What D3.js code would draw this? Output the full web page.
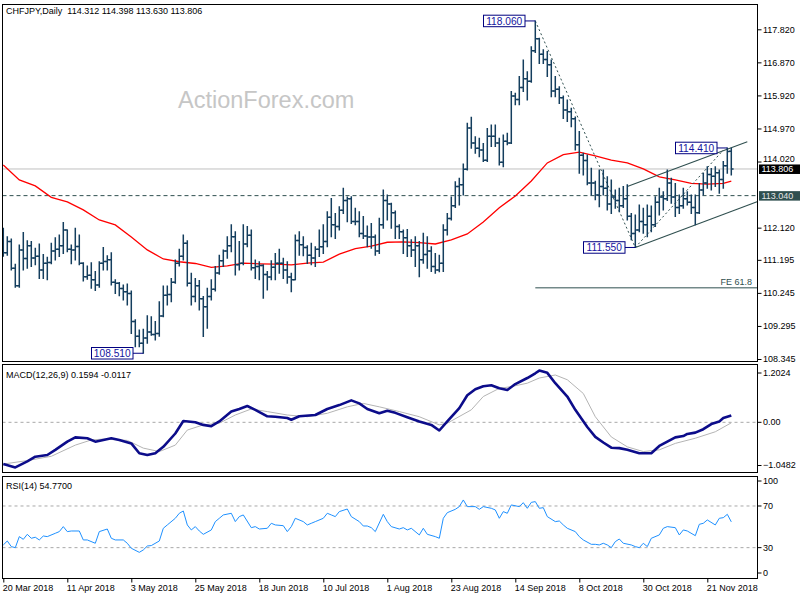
<!DOCTYPE html>
<html><head><meta charset="utf-8">
<script src="https://cdn.jsdelivr.net/npm/d3@7/dist/d3.min.js"></script>
<style>body{margin:0;background:#fff;}svg{display:block;}</style>
</head><body>
<svg id="chart" width="800" height="600"></svg>
<script>
// ---------------- DATA ----------------
const symbol = "CHFJPY,Daily";
const lastOHLC = ["114.312","114.398","113.630","113.806"];
const tickLabels = ["20 Mar 2018","11 Apr 2018","3 May 2018","25 May 2018","18 Jun 2018","10 Jul 2018","1 Aug 2018","23 Aug 2018","14 Sep 2018","8 Oct 2018","30 Oct 2018","21 Nov 2018"];
const tickIdx = [0,16,32,48,64,80,96,112,128,144,160,176];
const priceTicks = [117.820,116.870,115.920,114.970,114.020,112.120,111.195,110.245,109.295,108.345];
const macdTicks = [1.2024,0,-1.0482];
const rsiTicks = [100,70,30,0];

const opens = [111.45,111.40,111.72,110.95,110.45,111.48,111.23,111.60,111.25,111.30,
110.90,111.10,111.12,111.45,111.50,111.60,112.05,111.50,111.48,111.58,
111.10,110.71,110.75,110.62,110.47,111.10,111.15,111.20,110.55,110.52,
110.37,110.28,110.23,109.42,109.00,108.80,108.95,109.12,109.05,109.08,
109.58,110.18,110.20,110.55,111.10,111.30,111.67,110.52,110.14,110.45,
110.08,109.85,110.14,110.35,110.82,111.17,111.45,111.60,111.86,111.05,
111.10,111.65,111.90,110.97,111.00,111.03,110.77,110.70,110.98,111.10,
111.10,110.90,110.70,110.62,111.75,111.63,111.55,111.33,111.25,111.50,
111.57,111.72,112.42,112.20,112.15,112.62,112.90,112.95,112.30,112.30,
111.95,111.88,111.85,111.85,111.45,112.20,112.90,112.80,112.55,112.15,
112.00,111.83,111.60,111.48,111.60,111.20,111.35,111.45,111.00,110.90,
111.10,112.05,112.38,112.75,113.30,113.35,113.80,114.98,114.55,114.40,
114.35,114.06,114.75,114.75,114.55,114.00,114.60,114.55,115.90,115.80,
116.15,116.40,116.33,117.20,117.55,117.10,116.95,116.80,116.05,116.10,
115.85,115.50,115.45,115.25,114.50,114.20,114.05,113.40,113.40,113.06,
113.30,113.25,112.80,113.00,112.90,112.75,112.95,112.45,111.95,112.05,
112.30,112.20,112.45,112.20,112.85,113.00,112.95,113.40,113.00,112.70,
112.75,112.95,112.85,112.70,112.55,113.20,113.40,113.65,113.60,113.70,
113.50,113.90,114.312];
const highs = [112.10,111.86,111.79,111.07,111.62,111.98,111.74,111.72,111.53,111.65,
111.35,111.27,111.67,111.83,111.91,112.27,112.05,111.62,112.10,111.91,
111.11,111.02,111.11,110.86,111.14,111.55,111.31,111.40,110.62,110.54,
110.47,110.50,110.30,109.47,109.18,109.20,109.59,109.56,109.42,109.99,
110.44,110.44,110.66,111.19,111.50,111.91,111.74,110.81,110.66,110.60,
110.14,110.38,110.62,111.00,111.33,111.48,111.86,112.20,112.00,111.72,
112.20,112.15,112.05,111.19,111.14,111.05,110.86,111.17,111.38,111.50,
111.24,111.14,110.81,111.91,112.00,111.86,111.60,111.67,111.57,112.05,
112.20,112.58,112.96,112.53,112.72,113.25,113.00,113.01,112.68,112.58,
112.44,112.17,112.24,111.91,112.39,113.20,113.06,112.82,112.60,112.20,
112.05,112.07,111.77,111.86,111.72,111.96,111.86,111.57,111.38,111.33,
112.20,112.53,113.00,113.44,113.54,113.95,115.12,115.29,114.73,114.69,
114.54,114.97,115.07,115.07,114.69,114.78,114.83,116.03,115.98,116.46,
116.94,116.60,117.32,118.06,117.56,117.23,117.18,116.94,116.46,116.17,
115.90,115.79,115.55,115.30,114.88,114.26,114.21,113.83,113.45,113.78,
113.78,113.58,113.49,113.20,113.25,113.30,113.35,112.53,112.48,112.77,
112.68,112.77,112.74,113.01,113.25,113.15,113.78,113.54,113.39,113.06,
113.25,113.15,113.06,113.06,113.39,113.68,113.87,113.82,113.87,113.78,
114.02,114.41,114.398];
const lows = [111.30,111.33,110.90,110.41,110.41,110.90,110.95,111.00,111.05,110.66,
110.66,110.62,111.08,111.19,111.29,111.38,111.43,111.08,111.19,111.05,
110.59,110.64,110.38,110.31,110.41,110.90,110.90,110.47,110.23,110.16,
110.04,109.90,109.08,108.70,108.70,108.51,108.80,109.03,108.89,109.00,
109.56,109.90,109.99,110.52,111.02,111.19,110.44,109.90,109.99,109.75,
108.99,109.23,110.04,110.30,110.78,111.00,111.24,111.43,110.76,110.90,
111.05,111.57,110.90,110.66,110.62,110.09,110.33,110.62,110.62,110.81,
110.66,110.52,110.28,110.62,111.33,111.31,111.09,111.05,111.00,111.29,
111.38,111.57,111.86,111.81,112.05,112.53,112.29,112.24,112.20,111.86,
111.81,111.57,111.53,111.33,111.38,112.10,112.34,112.10,111.81,111.81,
111.38,111.29,111.29,111.00,110.71,111.10,110.95,110.86,110.81,110.85,
110.86,111.91,112.34,112.70,112.77,113.06,113.78,114.40,114.26,114.16,
114.02,114.02,114.45,114.45,113.92,113.87,114.50,114.54,115.65,115.65,
116.03,115.79,116.30,117.15,116.84,116.84,116.46,115.88,115.88,115.69,
115.26,115.17,115.02,114.35,113.68,113.63,113.35,113.06,112.92,112.72,
113.06,112.63,112.53,112.68,112.58,112.70,112.34,111.77,111.55,112.00,
111.96,111.86,112.00,112.15,112.48,112.63,112.90,112.82,112.44,112.53,
112.68,112.77,112.53,112.20,112.53,113.06,113.25,113.20,113.30,113.11,
113.25,113.68,113.630];
const closes = [111.40,111.72,110.95,110.45,111.48,111.23,111.60,111.25,111.30,110.90,
111.10,111.12,111.45,111.50,111.60,112.05,111.50,111.48,111.58,111.10,
110.71,110.75,110.62,110.47,111.10,111.15,111.20,110.55,110.52,110.37,
110.28,110.23,109.42,109.00,108.80,108.95,109.12,109.05,109.08,109.58,
110.18,110.20,110.55,111.10,111.30,111.67,110.52,110.14,110.45,110.08,
109.85,110.14,110.35,110.82,111.17,111.45,111.60,111.86,111.05,111.10,
111.65,111.90,110.97,111.00,111.03,110.77,110.70,110.98,111.10,111.10,
110.90,110.70,110.62,111.75,111.63,111.55,111.33,111.25,111.50,111.57,
111.72,112.42,112.20,112.15,112.62,112.90,112.95,112.30,112.30,111.95,
111.88,111.85,111.85,111.45,112.20,112.90,112.80,112.55,112.15,112.00,
111.83,111.60,111.48,111.60,111.20,111.35,111.45,111.00,110.90,111.10,
112.05,112.38,112.75,113.30,113.35,113.80,114.98,114.55,114.40,114.35,
114.06,114.75,114.75,114.55,114.00,114.60,114.55,115.90,115.80,116.15,
116.40,116.33,117.20,117.55,117.10,116.95,116.80,116.05,116.10,115.85,
115.50,115.45,115.25,114.50,114.20,114.05,113.40,113.40,113.06,113.30,
113.25,112.80,113.00,112.90,112.75,112.95,112.45,111.95,112.05,112.30,
112.20,112.45,112.20,112.85,113.00,112.95,113.40,113.00,112.70,112.75,
112.95,112.85,112.70,112.55,113.20,113.40,113.65,113.60,113.70,113.50,
113.90,114.31,113.806];

const maIdx = [0,4,8,12,16,20,24,28,32,36,40,44,48,52,56,60,64,68,72,76,80,84,88,92,96,100,104,108,112,116,120,124,128,132,136,140,144,148,152,156,160,164,168,172,176,180,182];
const maVals = [113.92,113.49,113.32,112.99,112.86,112.63,112.34,112.20,111.85,111.48,111.22,111.14,111.09,110.98,111.02,111.10,111.08,111.07,111.05,111.10,111.13,111.36,111.52,111.59,111.70,111.71,111.69,111.65,111.77,111.94,112.28,112.69,113.03,113.46,113.98,114.22,114.29,114.18,114.06,113.98,113.81,113.58,113.49,113.39,113.37,113.39,113.46];

const macdIdx = [0,3,6,8,11,13,16,18,21,23,25,27,29,32,34,36,38,40,43,45,48,50,52,54,57,59,61,63,66,68,71,72,74,78,81,84,87,89,91,94,96,98,101,104,107,109,111,114,116,118,120,122,124,126,128,131,133,134,136,138,141,143,146,148,150,152,154,156,159,162,164,168,170,171,173,175,177,179,180,182];
const macdVals = [-0.97,-1.048,-0.91,-0.80,-0.76,-0.64,-0.45,-0.35,-0.37,-0.45,-0.41,-0.37,-0.41,-0.49,-0.72,-0.76,-0.72,-0.57,-0.26,0.03,0.00,-0.06,-0.09,0.02,0.25,0.31,0.38,0.29,0.14,0.13,0.10,0.06,0.14,0.17,0.31,0.40,0.51,0.44,0.31,0.21,0.27,0.22,0.12,0.02,-0.06,-0.19,0.02,0.33,0.63,0.77,0.84,0.86,0.79,0.75,0.89,1.03,1.14,1.2024,1.15,0.91,0.60,0.29,-0.11,-0.34,-0.47,-0.59,-0.60,-0.64,-0.72,-0.72,-0.55,-0.35,-0.32,-0.27,-0.24,-0.16,-0.04,0.02,0.10,0.1594];
const sigIdx = [0,6,12,18,22,25,31,35,39,43,46,50,54,58,62,66,71,76,81,86,90,94,99,104,109,111,117,120,124,127,131,134,138,141,145,148,152,156,160,164,168,173,178,182];
const sigVals = [-0.97,-0.89,-0.79,-0.53,-0.41,-0.39,-0.42,-0.60,-0.68,-0.53,-0.18,-0.06,-0.02,0.17,0.31,0.25,0.17,0.13,0.21,0.36,0.44,0.36,0.25,0.13,-0.06,-0.02,0.29,0.60,0.79,0.83,0.91,1.03,1.10,0.99,0.67,0.13,-0.34,-0.57,-0.68,-0.64,-0.49,-0.37,-0.22,-0.0117];

const rsiIdx = [0,1,2,3,4,5,6,7,8,9,10,11,13,14,15,16,17,19,20,21,23,24,26,27,28,30,31,32,34,35,36,37,39,40,41,43,44,45,46,47,48,49,50,52,53,54,55,57,58,59,60,62,63,64,66,67,68,70,71,72,73,75,76,77,78,80,81,82,83,84,86,87,89,90,91,92,93,95,96,97,99,100,101,102,104,105,106,108,109,110,111,113,114,115,116,118,119,120,122,123,124,125,126,127,129,130,131,132,133,134,135,136,138,139,140,141,143,144,145,147,148,149,150,151,152,153,154,155,157,158,159,160,161,162,164,165,166,168,169,170,171,173,174,175,176,178,179,180,181,182];
const rsiVals = [32.6,36.4,31.0,30.0,40.6,38.0,42.8,39.0,40.0,37.4,41.2,40.6,43.8,45.4,50.2,45.4,46.0,46.0,37.4,37.4,34.2,45.4,47.9,39.0,37.4,37.4,34.2,29.4,25.5,27.8,31.6,32.0,36.4,48.6,51.8,58.2,63.0,65.2,51.8,47.0,50.2,46.0,42.8,47.0,55.0,58.2,61.4,63.0,55.0,59.8,61.4,49.2,50.2,47.9,48.6,53.4,51.8,51.1,45.4,50.2,58.2,55.0,51.8,53.4,55.0,58.2,63.0,61.4,59.8,64.6,67.1,59.8,55.0,50.8,50.8,49.2,45.4,62.0,55.0,50.2,47.9,49.2,47.0,48.6,42.2,48.6,42.8,40.6,39.0,58.2,63.6,66.8,69.4,75.8,69.4,69.4,66.8,69.4,67.8,66.2,58.2,64.6,63.0,71.0,69.4,73.2,67.8,73.5,74.2,67.8,68.4,59.8,55.0,55.6,51.8,48.6,45.4,40.6,37.4,33.2,33.2,32.6,34.2,32.6,30.0,35.8,38.3,34.2,32.6,31.0,30.0,34.2,31.0,39.0,42.2,48.6,50.2,49.2,42.2,47.0,46.0,41.5,52.4,53.4,56.6,51.8,58.2,58.8,62.0,54.77];

// annotations (bar index, price)
const lastPrice = 113.806;
const supportLevel = 113.04;
const feLevel = 110.39;
const feLabel = "FE 61.8";
const feStart = 133;
const trendDown = [[133,118.06],[158,111.55]];
const trendUp = [[158,111.55],[180,114.35]];
const chanUpper = [[156,113.30],[186,114.59]];
const chanLower = [[158,111.55],[188.6,112.87]];
const pivotLabels = [["118.060",133,118.06],["108.510",35,108.51],["111.550",158,111.55],["114.410",181,114.41]];

// ---------------- DRAW ----------------
const FONT = '"Liberation Sans", Arial, sans-serif';
const BAR = "#143e5e", SLATE = "#2f4f4f", NAVY = "#000080";
const svg = d3.select('#chart');
svg.append('rect').attr('width',800).attr('height',600).attr('fill','#fff');
const L = 2.5, R = 757.5;
const P = {main:{t:4.5,b:361.5}, macd:{t:364.5,b:472.5}, rsi:{t:476.5,b:578.5}};

const x = d3.scaleLinear().domain([0,188.6]).range([3.3,757.7]);
const y = d3.scaleLinear().domain([108.345,117.82]).range([359,29.3]);
const ym = d3.scaleLinear().domain([-1.0482,1.2024]).range([467.4,370.6]);
const yr = d3.scaleLinear().domain([0,100]).range([578.9,474.75]);

const defs = svg.append('defs');
Object.entries(P).forEach(([k,p])=>{
  defs.append('clipPath').attr('id','clip-'+k).append('rect')
    .attr('x',L).attr('y',p.t).attr('width',R-L).attr('height',p.b-p.t);
});

// watermark
svg.append('text').attr('x',178).attr('y',108).attr('font-family',FONT)
  .attr('font-size',23.5).attr('fill','#c6c6c6').text('ActionForex.com');

const gm = svg.append('g').attr('clip-path','url(#clip-main)');
gm.append('line').attr('x1',L).attr('x2',R).attr('y1',y(lastPrice)).attr('y2',y(lastPrice))
  .attr('stroke','#c0c0c0').attr('stroke-width',1);
gm.append('line').attr('x1',L).attr('x2',R).attr('y1',y(supportLevel)).attr('y2',y(supportLevel))
  .attr('stroke',SLATE).attr('stroke-width',1).attr('stroke-dasharray','4,3');
gm.append('line').attr('x1',x(feStart)).attr('x2',R).attr('y1',y(feLevel)).attr('y2',y(feLevel))
  .attr('stroke',SLATE).attr('stroke-width',1);
svg.append('text').attr('x',752).attr('y',y(feLevel)-2.5).attr('text-anchor','end')
  .attr('font-family',FONT).attr('font-size',9).attr('fill',SLATE).text(feLabel);

// MA line
const maLine = d3.line().x((d,i)=>x(maIdx[i])).y(d=>y(d));
gm.append('path').attr('d',maLine(maVals)).attr('fill','none').attr('stroke','#ff0000').attr('stroke-width',1.3);

// trend lines
const tl = d3.line().x(d=>x(d[0])).y(d=>y(d[1]));
gm.append('path').attr('d',tl(trendDown)).attr('stroke',SLATE).attr('fill','none').attr('stroke-width',1).attr('stroke-dasharray','2,2.5');
gm.append('path').attr('d',tl(trendUp)).attr('stroke',SLATE).attr('fill','none').attr('stroke-width',1).attr('stroke-dasharray','2,2.5');
gm.append('path').attr('d',tl(chanUpper)).attr('stroke',SLATE).attr('fill','none').attr('stroke-width',1.1);
gm.append('path').attr('d',tl(chanLower)).attr('stroke',SLATE).attr('fill','none').attr('stroke-width',1.1);

// OHLC bars
const bars = gm.append('g').attr('stroke',BAR).attr('stroke-width',1.5);
opens.forEach((o,i)=>{
  const cx = x(i);
  bars.append('line').attr('x1',cx).attr('x2',cx).attr('y1',y(highs[i])-0.5).attr('y2',y(lows[i])+0.5);
  bars.append('line').attr('x1',cx-2.3).attr('x2',cx).attr('y1',y(o)).attr('y2',y(o));
  bars.append('line').attr('x1',cx).attr('x2',cx+2.3).attr('y1',y(closes[i])).attr('y2',y(closes[i]));
});

// pivot labels
pivotLabels.forEach(([txt,i,p])=>{
  const bx = x(i)-10.3, by = y(p), w = 41.5, h = 11.5;
  svg.append('line').attr('x1',bx).attr('x2',x(i)).attr('y1',by).attr('y2',by).attr('stroke',NAVY).attr('stroke-width',1);
  svg.append('rect').attr('x',bx-w).attr('y',by-h/2).attr('width',w).attr('height',h)
    .attr('fill','#fff').attr('stroke',NAVY).attr('stroke-width',1);
  svg.append('text').attr('x',bx-w/2).attr('y',by+3.7).attr('text-anchor','middle')
    .attr('font-family',FONT).attr('font-size',10.2).attr('fill','#1414a0').text(txt);
});

// MACD
const gM = svg.append('g').attr('clip-path','url(#clip-macd)');
gM.append('line').attr('x1',L).attr('x2',R).attr('y1',ym(0)).attr('y2',ym(0))
  .attr('stroke','#a8a8a8').attr('stroke-dasharray','3,3');
const ml = d3.line().x((d,i)=>x(macdIdx[i])).y(d=>ym(d));
const sl = d3.line().x((d,i)=>x(sigIdx[i])).y(d=>ym(d));
gM.append('path').attr('d',sl(sigVals)).attr('fill','none').attr('stroke','#b4b4b4').attr('stroke-width',1);
gM.append('path').attr('d',ml(macdVals)).attr('fill','none').attr('stroke','#0c0c8a').attr('stroke-width',2.6).attr('stroke-linejoin','round');

// RSI
const gR = svg.append('g').attr('clip-path','url(#clip-rsi)');
[70,30].forEach(v=>gR.append('line').attr('x1',L).attr('x2',R).attr('y1',yr(v)).attr('y2',yr(v))
  .attr('stroke','#a8a8a8').attr('stroke-dasharray','3,3'));
const rl = d3.line().x((d,i)=>x(rsiIdx[i])).y(d=>yr(d));
gR.append('path').attr('d',rl(rsiVals)).attr('fill','none').attr('stroke','#1e90ff').attr('stroke-width',1);

// panel frames
Object.values(P).forEach(p=>{
  svg.append('rect').attr('x',L).attr('y',p.t).attr('width',R-L).attr('height',p.b-p.t)
    .attr('fill','none').attr('stroke','#000').attr('stroke-width',1);
});

// axes
function styleAxis(g){
  g.select('.domain').remove();
  g.attr('font-family',FONT).attr('font-size',9);
  g.selectAll('text').attr('fill','#000');
}
svg.append('g').attr('transform',`translate(${R},0)`)
  .call(d3.axisRight(y).tickValues(priceTicks).tickSize(4).tickPadding(1.5).tickFormat(d3.format('.3f')))
  .call(styleAxis)
  .call(g=>g.selectAll('.tick text').filter(d=>Math.abs(y(d)-y(lastPrice))<10).attr('dy','-0.05em'));
const macdFmt = d=> d===0 ? '0.00' : d3.format('.4f')(d);
svg.append('g').attr('transform',`translate(${R},0)`)
  .call(d3.axisRight(ym).tickValues(macdTicks).tickSize(4).tickPadding(1.5).tickFormat(macdFmt))
  .call(styleAxis)
  .call(g=>g.selectAll('.tick').attr('transform',d=>`translate(0,${Math.max(373,Math.min(465.5,ym(d)))})`));
svg.append('g').attr('transform',`translate(${R},0)`)
  .call(d3.axisRight(yr).tickValues(rsiTicks).tickSize(4).tickPadding(1.5).tickFormat(d3.format('d')))
  .call(styleAxis)
  .call(g=>g.selectAll('.tick').attr('transform',d=>`translate(0,${Math.max(481,Math.min(573,yr(d)))})`));
svg.append('g').attr('transform',`translate(0,${P.rsi.b})`)
  .call(d3.axisBottom(x).tickValues(tickIdx).tickSize(4).tickPadding(2.5).tickFormat((d,i)=>tickLabels[i]))
  .call(styleAxis)
  .call(g=>g.selectAll('text').attr('text-anchor','start').attr('x',-1));

// price highlight boxes on axis
[[lastPrice,'#000','#fff'],[supportLevel,SLATE,'#e6e6e6']].forEach(([p,bg,fg])=>{
  svg.append('rect').attr('x',759).attr('y',y(p)-4.5).attr('width',41).attr('height',9.5).attr('fill',bg);
  svg.append('text').attr('x',761.5).attr('y',y(p)+3.4).attr('font-family',FONT).attr('font-size',9)
    .attr('fill',fg).text(d3.format('.3f')(p));
});

// header texts
svg.append('text').attr('x',6).attr('y',13.5).attr('font-family',FONT).attr('font-size',9)
  .style('white-space','pre').text(symbol+'  '+lastOHLC.join(' '));
svg.append('text').attr('x',6).attr('y',377.5).attr('font-family',FONT).attr('font-size',9)
  .text('MACD(12,26,9) '+macdVals[macdVals.length-1].toFixed(4)+' '+sigVals[sigVals.length-1].toFixed(4));
svg.append('text').attr('x',6).attr('y',489).attr('font-family',FONT).attr('font-size',9)
  .text('RSI(14) '+rsiVals[rsiVals.length-1].toFixed(4));
</script>
</body></html>
